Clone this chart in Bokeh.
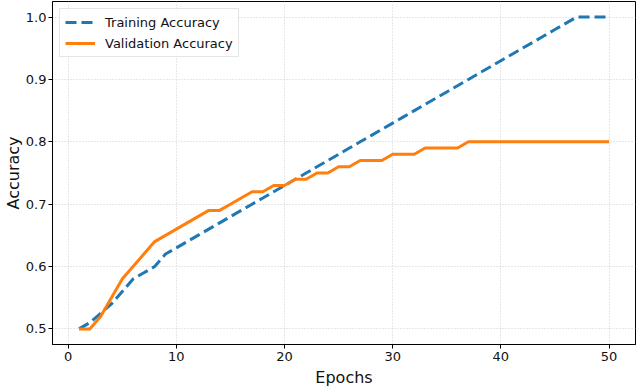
from bokeh.plotting import figure
from bokeh.models import ColumnDataSource, FixedTicker, PrintfTickFormatter, Range1d, Legend, LegendItem
from bokeh.embed import file_html
from bokeh.resources import INLINE

# Per-epoch accuracy values
epochs = list(range(1, 51))
train_acc = [0.50, 0.51, 0.525, 0.54, 0.56, 0.58, 0.59, 0.60, 0.62, 0.63,
             0.64, 0.65, 0.66, 0.67, 0.68, 0.69, 0.70, 0.71, 0.72, 0.73,
             0.74, 0.75, 0.76, 0.77, 0.78, 0.79, 0.80, 0.81, 0.82, 0.83,
             0.84, 0.85, 0.86, 0.87, 0.88, 0.89, 0.90, 0.91, 0.92, 0.93,
             0.94, 0.95, 0.96, 0.97, 0.98, 0.99, 1.00, 1.00, 1.00, 1.00]
val_acc = [0.50, 0.50, 0.52, 0.55, 0.58, 0.60, 0.62, 0.64, 0.65, 0.66,
           0.67, 0.68, 0.69, 0.69, 0.70, 0.71, 0.72, 0.72, 0.73, 0.73,
           0.74, 0.74, 0.75, 0.75, 0.76, 0.76, 0.77, 0.77, 0.77, 0.78,
           0.78, 0.78, 0.79, 0.79, 0.79, 0.79, 0.80, 0.80, 0.80, 0.80,
           0.80, 0.80, 0.80, 0.80, 0.80, 0.80, 0.80, 0.80, 0.80, 0.80]
x_ticks = [0, 10, 20, 30, 40, 50]
y_ticks = [0.5, 0.6, 0.7, 0.8, 0.9, 1.0]

FONT = "DejaVu Sans"

src = ColumnDataSource(dict(epoch=epochs, train=train_acc, val=val_acc))

p = figure(width=639, height=391, output_backend="svg", toolbar_location=None,
           x_range=Range1d(-1.45, 52.45), y_range=Range1d(0.475, 1.025),
           min_border_left=52, min_border_right=4, min_border_top=1, min_border_bottom=47)
p.background_fill_color = "white"
p.border_fill_color = "white"
p.outline_line_color = "black"
p.outline_line_width = 1
p.outline_line_alpha = 1

r_train = p.line("epoch", "train", source=src, line_color="#1f77b4", line_width=3, line_dash="11 5")
r_val = p.line("epoch", "val", source=src, line_color="#ff7f0e", line_width=3, line_join="round")

p.xaxis.ticker = FixedTicker(ticks=x_ticks)
p.yaxis.ticker = FixedTicker(ticks=y_ticks)
p.yaxis.formatter = PrintfTickFormatter(format="%.1f")
for ax in (p.xaxis, p.yaxis):
    ax.major_label_text_font = FONT
    ax.major_label_text_font_size = "13px"
    ax.major_label_text_color = "#111111"
    ax.axis_label_text_font = FONT
    ax.axis_label_text_font_size = "16px"
    ax.axis_label_text_font_style = "normal"
    ax.axis_label_text_color = "#111111"
    ax.minor_tick_line_color = None
    ax.major_tick_in = 0
    ax.major_tick_out = 4
    ax.major_tick_line_color = "black"
    ax.axis_line_color = "black"
p.yaxis.major_label_standoff = 2
p.yaxis.axis_label_standoff = 0
p.xaxis.major_label_standoff = 3
p.xaxis.axis_label_standoff = 4
p.xaxis.axis_label = "Epochs"
p.yaxis.axis_label = "Accuracy"

p.grid.grid_line_color = "#cfcfcf"
p.grid.grid_line_dash = "1 2"
p.grid.grid_line_width = 1

legend = Legend(items=[LegendItem(label="Training Accuracy", renderers=[r_train]),
                       LegendItem(label="Validation Accuracy", renderers=[r_val])],
                location="top_left", margin=7, padding=5, spacing=5,
                glyph_width=30, glyph_height=16, label_height=16, label_standoff=10,
                label_text_font=FONT, label_text_font_size="13px", label_text_color="#111111",
                border_line_color="#cccccc", border_line_width=1,
                background_fill_color="white", background_fill_alpha=0.8)
p.add_layout(legend, "center")

open("out.html", "w").write(file_html(p, INLINE))
